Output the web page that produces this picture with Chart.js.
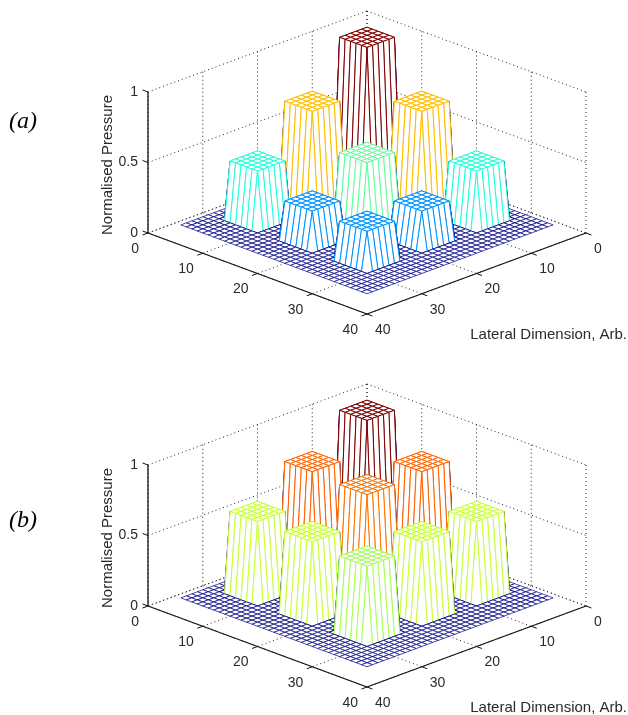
<!DOCTYPE html>
<html>
<head>
<meta charset="utf-8">
<style>
  html, body { margin: 0; padding: 0; background: #fff; overflow: hidden; }
  canvas { position: absolute; left: 0; filter: blur(0.4px); }
  #chart-a { top: 0; }
  #chart-b { top: 373px; }
</style>
<script src="https://cdn.jsdelivr.net/npm/chart.js@4/dist/chart.umd.min.js"></script>
</head>
<body>
<canvas id="chart-a" width="628" height="342"></canvas>
<canvas id="chart-b" width="628" height="342"></canvas>
<script>
// Values
const lateralTicks = [0, 10, 20, 30, 40];
const pressureTicks = [0, 0.5, 1];
const pressureTickLabels = ['0', '0.5', '1'];
const meshStart = 1;
const meshEnd = 35;
const pillarStarts = [4, 14, 24];
const pillarSide = 5;
const pressureA = [
  [1.00, 0.69, 0.41],
  [0.69, 0.47, 0.27],
  [0.41, 0.27, 0.27]
];
const pressureB = [
  [1.00, 0.78, 0.57],
  [0.78, 0.76, 0.57],
  [0.57, 0.57, 0.54]
];

const X_UNIT = 5.475;       // px per lateral unit, sideways
const Y_SLOPE = 2.025 / 141; // floor slope in pressure units

// Oblique view of the box: (a, b, z) -> chart values
function project(a, b, z) {
  return { x: a - b, y: z - (a + b) * Y_SLOPE };
}

function heightAt(heights, a, b) {
  for (let i = 0; i < pillarStarts.length; i++) {
    for (let j = 0; j < pillarStarts.length; j++) {
      const inA = a >= pillarStarts[i] && a <= pillarStarts[i] + pillarSide;
      const inB = b >= pillarStarts[j] && b <= pillarStarts[j] + pillarSide;
      if (inA && inB) return heights[i][j];
    }
  }
  return 0;
}

// Jet colormap, same as the mesh edges
function jet(v) {
  const ramp = t => Math.round(255 * Math.max(0, Math.min(1, t)));
  const r = ramp(Math.min(4 * v - 1.5, 4.5 - 4 * v));
  const g = ramp(Math.min(4 * v - 0.5, 3.5 - 4 * v));
  const b = ramp(Math.min(4 * v + 0.5, 2.5 - 4 * v));
  return `rgb(${r},${g},${b})`;
}

function lineSet(points, color, width, dash) {
  return {
    data: points,
    showLine: true,
    borderColor: color,
    borderWidth: width,
    borderDash: dash || [],
    pointRadius: 0,
    fill: false
  };
}

// Dotted grid on floor and back walls, solid axes and ticks
function boxDatasets() {
  const sets = [];
  const dotted = [1, 3];
  const gridColor = '#222';
  const solid = '#111';

  lateralTicks.forEach(t => {
    sets.push(lineSet([project(t, 0, 0), project(t, 40, 0)], gridColor, 1, dotted));
    sets.push(lineSet([project(0, t, 0), project(40, t, 0)], gridColor, 1, dotted));
    sets.push(lineSet([project(0, t, 0), project(0, t, 1)], gridColor, 1, dotted));
    sets.push(lineSet([project(t, 0, 0), project(t, 0, 1)], gridColor, 1, dotted));
    sets.push(lineSet([project(40, t, 0), project(41, t, 0)], solid, 1));
    sets.push(lineSet([project(t, 40, 0), project(t, 41, 0)], solid, 1));
  });
  pressureTicks.forEach(z => {
    sets.push(lineSet([project(0, 40, z), project(0, 0, z)], gridColor, 1, dotted));
    sets.push(lineSet([project(0, 0, z), project(40, 0, z)], gridColor, 1, dotted));
    sets.push(lineSet([project(0, 40, z), project(-1, 40, z)], solid, 1));
  });
  sets.push(lineSet([project(0, 40, 0), project(0, 40, 1)], solid, 1.3));
  sets.push(lineSet([project(0, 40, 0), project(40, 40, 0)], solid, 1.3));
  sets.push(lineSet([project(40, 40, 0), project(40, 0, 0)], solid, 1.3));
  return sets;
}

// One dataset per mesh cell, in far to near order
function meshDatasets(heights) {
  const sets = [];
  for (let a = meshStart; a < meshEnd; a++) {
    for (let b = meshStart; b < meshEnd; b++) {
      const z00 = heightAt(heights, a, b);
      const z10 = heightAt(heights, a + 1, b);
      const z11 = heightAt(heights, a + 1, b + 1);
      const z01 = heightAt(heights, a, b + 1);
      const colors = [jet(z00), jet(z10), jet(z01), jet(z00)];
      const flatFloor = z00 + z10 + z11 + z01 === 0;
      const cell = lineSet([
        project(a, b, z00),
        project(a + 1, b, z10),
        project(a + 1, b + 1, z11),
        project(a, b + 1, z01),
        project(a, b, z00)
      ], colors[0], flatFloor ? 0.7 : 1);
      cell.meshCell = true;
      cell.segment = { borderColor: ctx => colors[ctx.p0DataIndex] };
      sets.push(cell);
    }
  }
  return sets;
}

// White face under each cell so that nearer cells hide what is behind
const hiddenFaces = {
  id: 'hiddenFaces',
  beforeDatasetDraw(chart, args) {
    if (!chart.data.datasets[args.index].meshCell) return;
    const ctx = chart.ctx;
    const pts = args.meta.data;
    ctx.save();
    ctx.beginPath();
    pts.forEach((p, i) => (i ? ctx.lineTo(p.x, p.y) : ctx.moveTo(p.x, p.y)));
    ctx.closePath();
    ctx.fillStyle = '#fff';
    ctx.fill();
    ctx.restore();
  }
};

// Tick labels and titles
const axisText = {
  id: 'axisText',
  afterDraw(chart) {
    const ctx = chart.ctx;
    const opts = chart.options.plugins.axisText;
    const sx = chart.scales.x;
    const sy = chart.scales.y;
    const at = (a, b, z) => {
      const p = project(a, b, z);
      return { x: sx.getPixelForValue(p.x), y: sy.getPixelForValue(p.y) };
    };
    ctx.save();
    ctx.fillStyle = '#2a2a2a';
    ctx.font = '14px "Liberation Sans"';
    ctx.textBaseline = 'middle';

    ctx.textAlign = 'right';
    lateralTicks.forEach(t => {
      const p = at(t, 40, 0);
      ctx.fillText(String(t), p.x - 9, p.y + 16);
    });
    pressureTicks.forEach((z, i) => {
      const p = at(0, 40, z);
      ctx.fillText(pressureTickLabels[i], p.x - 10, p.y);
    });

    ctx.textAlign = 'left';
    lateralTicks.forEach(t => {
      const p = at(40, t, 0);
      ctx.fillText(String(t), p.x + 8, p.y + 16);
    });

    ctx.font = '15px "Liberation Sans"';
    ctx.textAlign = 'right';
    ctx.fillText('Lateral Dimension, Arb.', 627, 335);

    ctx.save();
    ctx.translate(108, 165);
    ctx.rotate(-Math.PI / 2);
    ctx.textAlign = 'center';
    ctx.fillText('Normalised Pressure', 0, 0);
    ctx.restore();

    ctx.textAlign = 'left';
    ctx.fillStyle = '#000';
    ctx.font = 'italic 24px "Liberation Serif"';
    ctx.fillText(opts.tag, 9, opts.tagY);
    ctx.restore();
  }
};

function drawPanel(id, heights, tag, tagY) {
  const ctx = document.getElementById(id).getContext('2d');
  new Chart(ctx, {
    type: 'scatter',
    data: { datasets: meshDatasets(heights).reverse().concat(boxDatasets()) },
    options: {
      responsive: false,
      animation: false,
      events: [],
      layout: { padding: 0 },
      clip: false,
      scales: {
        x: { type: 'linear', display: false, min: -367 / X_UNIT, max: 261 / X_UNIT },
        y: { type: 'linear', display: false, min: (152 - 342) / 141, max: 152 / 141 }
      },
      plugins: {
        legend: { display: false },
        tooltip: { enabled: false },
        axisText: { tag: tag, tagY: tagY }
      }
    },
    plugins: [hiddenFaces, axisText]
  });
}

drawPanel('chart-a', pressureA, '(a)', 122);
drawPanel('chart-b', pressureB, '(b)', 148);
</script>
</body>
</html>
